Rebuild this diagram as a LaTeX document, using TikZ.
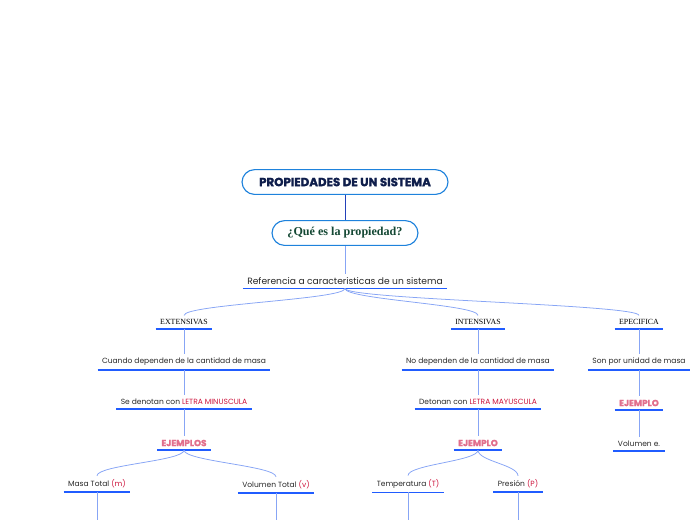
\documentclass[tikz,border=0pt]{standalone}
\usepackage{fontspec}
\setmainfont{Liberation Serif}
\setsansfont{Poppins}
\newfontfamily\heavyfont{Poppins}[BoldFeatures={FakeBold=1.6}]
\usepackage{tikz}
\usetikzlibrary{positioning, arrows.meta, calc}
\definecolor{MMBlue}{RGB}{32,92,255}
\definecolor{MMLink}{RGB}{135,165,245}
\definecolor{MMFrame}{RGB}{30,130,220}
\definecolor{MMStem}{RGB}{35,65,185}
\definecolor{MMNavy}{RGB}{15,30,75}
\definecolor{MMGreen}{RGB}{20,72,52}
\definecolor{MMRed}{RGB}{205,20,60}
\definecolor{MMPink}{RGB}{225,110,140}
\definecolor{MMText}{RGB}{40,40,40}

\begin{document}
\begin{tikzpicture}[x=0.025cm, y=-0.025cm,
          topic/.style={rectangle, rounded corners=9pt, draw=MMFrame, fill=white,
                        line width=0.8pt, align=center},
          leaf/.style={inner xsep=3pt, inner ysep=2.6pt, text=MMText,
                       font=\sffamily\fontsize{5.35}{6}\selectfont,
                       append after command={(\tikzlastnode.south west)
                         edge[draw=MMBlue, line width=1.3pt] (\tikzlastnode.south east)}},
          kind/.style={leaf, font=\fontsize{5.6}{6}\selectfont, text=black},
          ex/.style={leaf, font=\heavyfont\bfseries\fontsize{6.3}{7}\selectfont, text=MMPink},
          link/.style={draw=MMLink, line width=0.55pt}
        ]
        \useasboundingbox (0,0) rectangle (696,520);

        \node[topic, minimum width=5.15cm, minimum height=0.62cm,
              font=\heavyfont\bfseries\fontsize{8.4}{9}\selectfont, text=MMNavy] (title) at (345,182)
              {PROPIEDADES DE UN SISTEMA};
        \node[topic, minimum width=3.65cm, minimum height=0.62cm,
              font=\bfseries\fontsize{8.6}{9}\selectfont, text=MMGreen] (que) at (345,233)
              {¿Qué es la propiedad?};
        \node[leaf, font=\sffamily\fontsize{6.5}{7}\selectfont] (ref) at (345,281)
              {Referencia a caracteristicas de un sistema};

        % three kinds
        \node[kind] (ext) at (184,322) {EXTENSIVAS};
        \node[kind] (int) at (478,322) {INTENSIVAS};
        \node[kind] (epe) at (639,322) {EPECIFICA};

        \node[leaf] (cuando) at (184,362) {Cuando dependen de la cantidad de masa};
        \node[leaf] (nodep)  at (478,362) {No dependen de la cantidad de masa};
        \node[leaf] (son)    at (639,362) {Son por unidad de masa};

        \node[leaf] (seden) at (184,402) {Se denotan con \textcolor{MMRed}{LETRA MINUSCULA}};
        \node[leaf] (deton) at (478,402) {Detonan con \textcolor{MMRed}{LETRA MAYUSCULA}};
        \node[ex]   (ejc)   at (639,403) {EJEMPLO};

        \node[ex]   (eja)  at (184,443) {EJEMPLOS};
        \node[ex]   (ejb)  at (478,443) {EJEMPLO};
        \node[leaf] (vole) at (639,444) {Volumen e.};

        % examples
        \node[leaf] (masa) at (97,484)  {Masa Total \textcolor{MMRed}{(m)}};
        \node[leaf] (volt) at (276,485) {Volumen Total \textcolor{MMRed}{(v)}};
        \node[leaf] (temp) at (408,484) {Temperatura \textcolor{MMRed}{(T)}};
        \node[leaf] (pres) at (518,484) {Presión \textcolor{MMRed}{(P)}};

        \coordinate (masa-end) at (97,520);
        \coordinate (volt-end) at (276,520);
        \coordinate (temp-end) at (408,520);
        \coordinate (pres-end) at (518,520);

        \draw[draw=MMStem, line width=0.7pt] (title)--(que);
        \draw[link] (que)--(ref);

        \foreach \a/\b in {ref/ext, ref/int, ref/epe, eja/masa, eja/volt, ejb/temp, ejb/pres} {
          \draw[link] (\a.south) .. controls ($(\a.south)+(0,11)$) and ($(\b.north)+(0,-11)$) .. (\b.north);
        }
        \foreach \a/\b in {ext/cuando, cuando/seden, seden/eja, int/nodep, nodep/deton,
                           deton/ejb, epe/son, son/ejc, ejc/vole} {
          \draw[link] (\a.south)--(\b.north);
        }
        \foreach \a in {masa, volt, temp, pres} {
          \draw[link] (\a.south)--(\a-end);
        }
      \end{tikzpicture}
\end{document}
